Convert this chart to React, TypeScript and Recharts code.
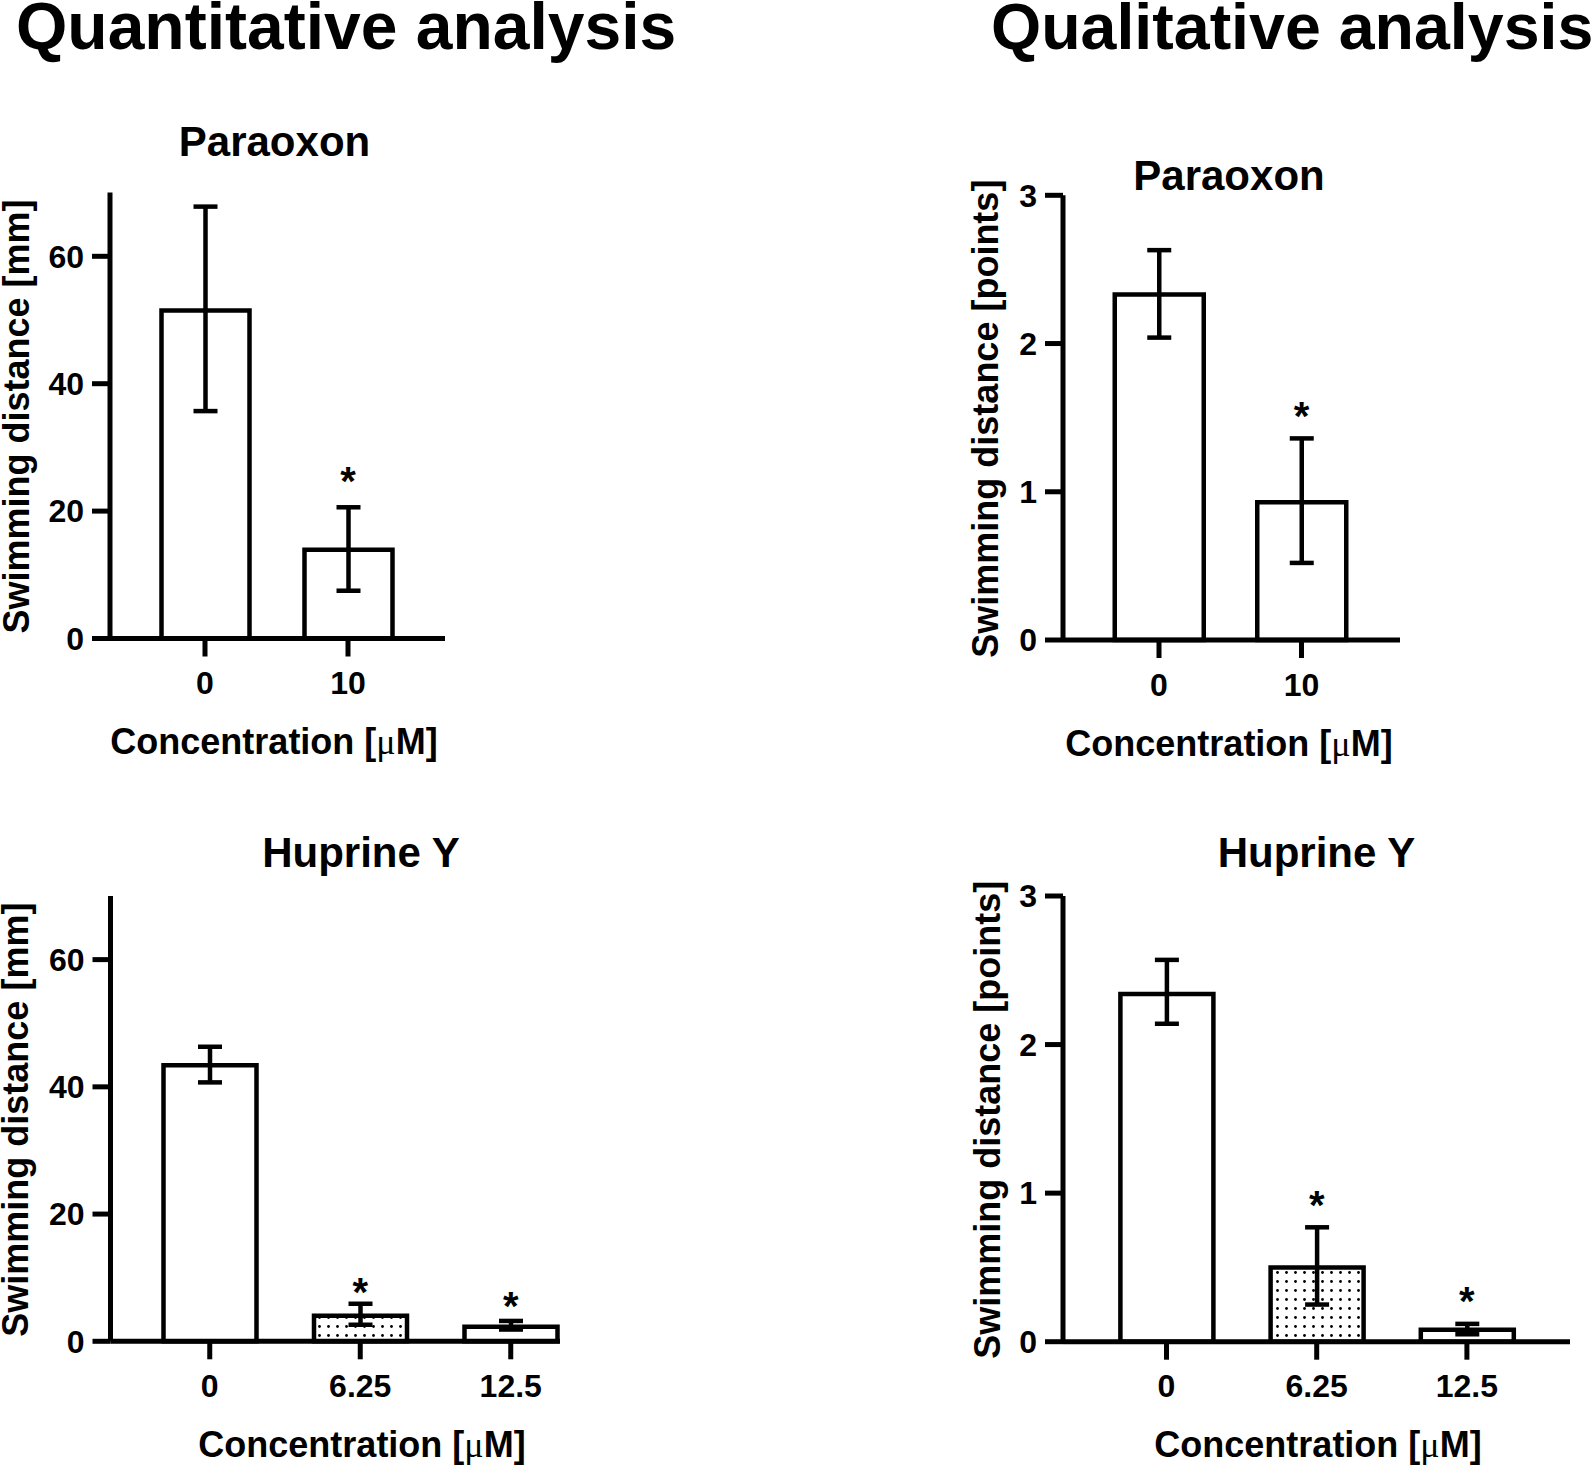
import React from 'react';
import { ComposedChart, Bar, XAxis, YAxis, ErrorBar, Scatter, Cell } from 'recharts';

const FONT = "'Liberation Sans', Arial, Helvetica, sans-serif";

// Paraoxon
const paraoxonDoses = ['0', '10'];
const paraoxonMm = [51.5, 13.95];
const paraoxonMmErr = [[15.8, 16.3], [6.45, 6.65]];
const paraoxonMmStar = [null, 26.2];
const paraoxonPts = [2.33, 0.93];
const paraoxonPtsErr = [[0.29, 0.3], [0.41, 0.43]];
const paraoxonPtsStar = [null, 1.57];

// Huprine Y
const huprineDoses = ['0', '6.25', '12.5'];
const huprineMm = [43.4, 4.0, 2.3];
const huprineMmErr = [[2.7, 2.9], [1.4, 1.9], [0.45, 0.9]];
const huprineMmStar = [null, 9.2, 7.0];
const huprinePts = [2.34, 0.5, 0.08];
const huprinePtsErr = [[0.2, 0.23], [0.25, 0.27], [0.03, 0.04]];
const huprinePtsStar = [null, 0.98, 0.335];

const mmTicks = [0, 20, 40, 60];
const ptsTicks = [0, 1, 2, 3];

type Row = { dose: string; mean: number; err: number[]; star: number | null };

const buildRows = (doses: string[], means: number[], errs: number[][], stars: (number | null)[]): Row[] =>
  doses.map((dose, i) => ({ dose, mean: means[i], err: errs[i], star: stars[i] }));

type Box = { left: number; top: number; width: number; height: number };
type Plot = { x0: number; y0: number; x1: number; y1: number };

interface PanelProps {
  box: Box;
  plot: Plot;
  rows: Row[];
  yMax: number;
  yTicks: number[];
  barSize: number;
  pad: { left: number; right: number };
  dotted?: boolean;
  yLabel: string;
  yLabelX: number;
  xLabelX: number;
  xLabelY: number;
}

const axisStroke = { stroke: '#000', strokeWidth: 5 };
const tickStyle = { fill: '#000', fontSize: 32, fontWeight: 700, fontFamily: FONT };

function Panel({ box, plot, rows, yMax, yTicks, barSize, pad, dotted, yLabel, yLabelX, xLabelX, xLabelY }: PanelProps) {
  const cy = (plot.y0 + plot.y1) / 2 + 1 - box.top;
  const lx = yLabelX - box.left;

  const yLabelContent = () => (
    <text
      x={lx}
      y={cy}
      transform={`rotate(-90 ${lx} ${cy})`}
      textAnchor="middle"
      fontFamily={FONT}
      fontWeight={700}
      fontSize={36}
      fill="#000"
    >
      {yLabel}
    </text>
  );

  const xLabelContent = () => (
    <text x={xLabelX - box.left} y={xLabelY - box.top} textAnchor="middle" fontFamily={FONT} fontWeight={700} fontSize={36} fill="#000">
      Concentration [<tspan fontFamily="'Liberation Serif', serif" fontWeight={400}>μ</tspan>M]
    </text>
  );

  // asterisk marks significance, centred on the value stored in `star`
  const starShape = (p: any) => {
    if (p.payload == null || p.payload.star == null) return <g />;
    return (
      <text x={p.cx} y={p.cy + 23} textAnchor="middle" fontFamily={FONT} fontWeight={700} fontSize={40} fill="#000">
        *
      </text>
    );
  };

  return (
    <div style={{ position: 'absolute', left: box.left, top: box.top }}>
      <ComposedChart
        width={box.width}
        height={box.height}
        data={rows}
        margin={{ top: plot.y0 - box.top, right: box.left + box.width - plot.x1, bottom: 0, left: 0 }}
      >
        <XAxis
          dataKey="dose"
          type="category"
          interval={0}
          height={box.top + box.height - plot.y1}
          padding={pad}
          axisLine={axisStroke}
          tickLine={axisStroke}
          tickSize={18}
          tickMargin={15}
          tick={tickStyle}
          label={xLabelContent}
        />
        <YAxis
          type="number"
          domain={[0, yMax]}
          ticks={yTicks}
          interval={0}
          width={plot.x0 - box.left}
          axisLine={axisStroke}
          tickLine={axisStroke}
          tickSize={18}
          tickMargin={8}
          tick={tickStyle}
          label={yLabelContent}
        />
        <Bar dataKey="mean" barSize={barSize} stroke="#000" strokeWidth={4.5} isAnimationActive={false}>
          {rows.map((r, i) => (
            <Cell key={r.dose} fill={dotted && i === 1 ? 'url(#dots)' : '#fff'} />
          ))}
          <ErrorBar dataKey="err" direction="y" width={12} stroke="#000" strokeWidth={4.5} isAnimationActive={false} />
        </Bar>
        <Scatter dataKey="star" shape={starShape} isAnimationActive={false} />
      </ComposedChart>
    </div>
  );
}

export default function App() {
  return (
    <div style={{ position: 'absolute', left: 0, top: 0, width: 1594, height: 1465, background: '#fff', overflow: 'hidden' }}>
      <svg width={0} height={0} style={{ position: 'absolute' }}>
        <defs>
          <pattern id="dots" patternUnits="userSpaceOnUse" width={9} height={9}>
            <rect width={9} height={9} fill="#fff" />
            <circle cx={4.5} cy={4.5} r={1.4} fill="#000" />
          </pattern>
        </defs>
      </svg>

      <Panel
        box={{ left: 0, top: 100, width: 480, height: 680 }}
        plot={{ x0: 110, y0: 192.6, x1: 445, y1: 638.5 }}
        rows={buildRows(paraoxonDoses, paraoxonMm, paraoxonMmErr, paraoxonMmStar)}
        yMax={70}
        yTicks={mmTicks}
        barSize={88}
        pad={{ left: 23.5, right: 25.5 }}
        yLabel="Swimming distance [mm]"
        yLabelX={29}
        xLabelX={274}
        xLabelY={754}
      />
      <Panel
        box={{ left: 940, top: 100, width: 480, height: 680 }}
        plot={{ x0: 1063, y0: 195.3, x1: 1400, y1: 640 }}
        rows={buildRows(paraoxonDoses, paraoxonPts, paraoxonPtsErr, paraoxonPtsStar)}
        yMax={3}
        yTicks={ptsTicks}
        barSize={89}
        pad={{ left: 24.75, right: 27.25 }}
        yLabel="Swimming distance [points]"
        yLabelX={998}
        xLabelX={1229}
        xLabelY={756}
      />
      <Panel
        box={{ left: 0, top: 800, width: 600, height: 665 }}
        plot={{ x0: 110.5, y0: 896, x1: 560, y1: 1341.3 }}
        rows={buildRows(huprineDoses, huprineMm, huprineMmErr, huprineMmStar)}
        yMax={70}
        yTicks={mmTicks}
        barSize={93}
        pad={{ left: 24, right: -26 }}
        dotted
        yLabel="Swimming distance [mm]"
        yLabelX={28}
        xLabelX={362}
        xLabelY={1457}
      />
      <Panel
        box={{ left: 940, top: 800, width: 654, height: 665 }}
        plot={{ x0: 1063, y0: 896, x1: 1570, y1: 1341.7 }}
        rows={buildRows(huprineDoses, huprinePts, huprinePtsErr, huprinePtsStar)}
        yMax={3}
        yTicks={ptsTicks}
        barSize={93}
        pad={{ left: 28.4, right: 28 }}
        dotted
        yLabel="Swimming distance [points]"
        yLabelX={1000}
        xLabelX={1318}
        xLabelY={1457}
      />

      <svg width={1594} height={1465} style={{ position: 'absolute', left: 0, top: 0, pointerEvents: 'none' }}>
        <g fontFamily={FONT} fontWeight={700} fill="#000">
          <text x={16} y={49} fontSize={66}>Quantitative analysis</text>
          <text x={991} y={49} fontSize={64.5}>Qualitative analysis</text>
          <text x={274.5} y={156} fontSize={42} textAnchor="middle">Paraoxon</text>
          <text x={1229} y={190} fontSize={42} textAnchor="middle">Paraoxon</text>
          <text x={361} y={866.5} fontSize={42} textAnchor="middle">Huprine Y</text>
          <text x={1316.5} y={866.5} fontSize={42} textAnchor="middle">Huprine Y</text>
        </g>
      </svg>
    </div>
  );
}
